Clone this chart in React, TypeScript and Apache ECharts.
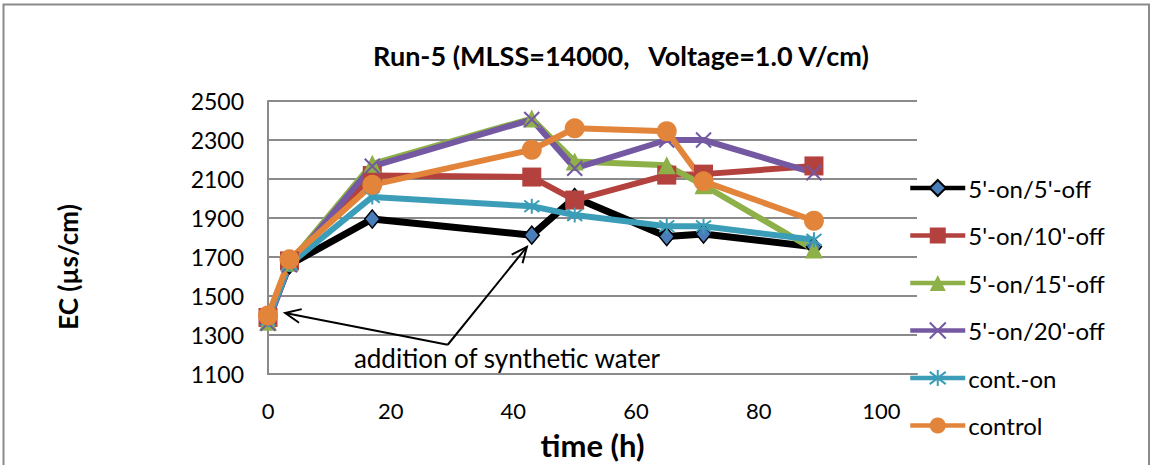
import React, { useEffect, useRef } from "react";
import * as echarts from "echarts";

// Sampling times (h)
const times = [0, 3.5, 17, 43, 50, 65, 71, 89];

// EC readings (µs/cm) for each operating mode
const on5off5 = [1385, 1660, 1895, 1812, 2005, 1805, 1818, 1752];
const on5off10 = [1390, 1680, 2118, 2110, 1992, 2120, 2125, 2167];
const on5off15 = [1368, 1670, 2178, 2410, 2190, 2170, 2068, 1738];
const on5off20 = [1360, 1660, 2165, 2405, 2155, 2300, 2300, 2132];
const contOn = [1378, 1662, 2008, 1960, 1915, 1858, 1858, 1788];
const control = [1400, 1688, 2070, 2250, 2360, 2345, 2088, 1886];

const seriesNames = [
  "5'-on/5'-off",
  "5'-on/10'-off",
  "5'-on/15'-off",
  "5'-on/20'-off",
  "cont.-on",
  "control",
];

// Axis ranges and ticks
const yMin = 1100;
const yMax = 2500;
const yStep = 200;
const xMin = 0;
const xMax = 105.8;
const xStep = 20;

// Annotation: a shared tail with two arrows pointing at the additions
const noteText = "addition of synthetic water";
const noteAnchor = [14, 1180];
const arrowTail = [29.3, 1250];
const arrowTips = [
  [2.8, 1413],
  [42.2, 1752],
];

const FONT = "Lato, 'Open Sans', sans-serif";

const crossPath = "path://M0,0L10,10M10,0L0,10";
const starPath = "path://M0,0L10,10M10,0L0,10M5,-1.5L5,11.5";

function zip(ys: number[]) {
  return times.map((t, i) => [t, ys[i]]);
}

export default function App() {
  const ref = useRef<HTMLDivElement>(null);

  useEffect(() => {
    if (!ref.current) return;
    const chart = echarts.init(ref.current, undefined, { renderer: "svg" });

    const lineSeries = (
      name: string,
      ys: number[],
      lineColor: string,
      symbol: string,
      symbolSize: number | number[],
      itemStyle: any,
      lineWidth = 6
    ) => ({
      type: "line",
      name,
      data: zip(ys),
      symbol,
      symbolSize,
      showAllSymbol: true,
      lineStyle: { color: lineColor, width: lineWidth },
      itemStyle,
      emphasis: { disabled: true },
      z: 3,
    });

    const series = [
      lineSeries(seriesNames[0], on5off5, "#000000", "diamond", [15, 18], {
        color: "#4a7ebb",
        borderColor: "#000000",
        borderWidth: 1.5,
      }, 7),
      lineSeries(seriesNames[1], on5off10, "#b3413e", "rect", 19, {
        color: "#b3413e",
      }),
      lineSeries(seriesNames[2], on5off15, "#8db048", "triangle", 18, {
        color: "#8db048",
      }),
      lineSeries(seriesNames[3], on5off20, "#7458a2", crossPath, 15, {
        color: "transparent",
        borderColor: "#7458a2",
        borderWidth: 2,
      }),
      lineSeries(seriesNames[4], contOn, "#3b9db8", starPath, 15, {
        color: "transparent",
        borderColor: "#3b9db8",
        borderWidth: 2,
      }),
      lineSeries(seriesNames[5], control, "#e2843a", "circle", 20, {
        color: "#e2843a",
      }),
    ];

    chart.setOption({
      animation: false,
      backgroundColor: "#ffffff",
      textStyle: { fontFamily: FONT },
      title: {
        text: "Run-5 (MLSS=14000,\u00a0\u00a0 Voltage=1.0 V/cm)",
        left: 616,
        top: 37,
        textAlign: "center",
        textStyle: { fontFamily: FONT, fontWeight: "bold", fontSize: 27, color: "#000" },
      },
      legend: {
        orient: "vertical",
        left: 903,
        top: 171,
        itemWidth: 55,
        itemHeight: 20,
        itemGap: 23.5,
        lineStyle: { width: 4.5 },
        textStyle: { fontFamily: FONT, fontSize: 24, color: "#000", padding: [0, 0, 0, -2] },
        data: seriesNames,
      },
      grid: { left: 268, top: 101, right: 237, bottom: 91, containLabel: false },
      xAxis: {
        type: "value",
        min: xMin,
        max: xMax,
        interval: xStep,
        name: "time (h)",
        nameLocation: "middle",
        nameGap: 55,
        nameTextStyle: { fontFamily: FONT, fontWeight: "bold", fontSize: 31, color: "#000" },
        axisLine: { show: true, lineStyle: { color: "#8a8a8a", width: 2 } },
        axisTick: { show: false },
        splitLine: { show: false },
        axisLabel: {
          fontFamily: FONT,
          fontSize: 22,
          color: "#000",
          margin: 25,
          showMaxLabel: false,
          formatter: (v: number) => (v % xStep === 0 ? String(v) : ""),
        },
      },
      yAxis: {
        type: "value",
        min: yMin,
        max: yMax,
        interval: yStep,
        axisLine: { show: true, lineStyle: { color: "#8a8a8a", width: 2 } },
        axisTick: { show: false },
        splitLine: { show: true, lineStyle: { color: "#8a8a8a", width: 2 } },
        axisLabel: {
          fontFamily: FONT,
          fontSize: 23,
          color: "#000",
          margin: 24,
          formatter: (v: number) => String(v),
        },
      },
      series,
    });

    // Annotation arrows anchored to data coordinates
    const px = (p: number[]) => chart.convertToPixel({ gridIndex: 0 }, p) as number[];
    const tail = px(arrowTail);
    const head = (tip: number[]) => {
      const t = px(tip);
      const ang = Math.atan2(tail[1] - t[1], tail[0] - t[0]);
      const len = 17;
      const spread = 0.42;
      return [
        [t[0] + len * Math.cos(ang + spread), t[1] + len * Math.sin(ang + spread)],
        t,
        [t[0] + len * Math.cos(ang - spread), t[1] + len * Math.sin(ang - spread)],
      ];
    };
    const arrowStyle = { stroke: "#000", lineWidth: 2, fill: "none" };
    const graphics: any[] = [
      {
        type: "rect",
        shape: { x: 3.5, y: 4.5, width: 1145.5, height: 480 },
        style: { fill: "none", stroke: "#8a8a8a", lineWidth: 2 },
        silent: true,
        z: 0,
      },
      // Y-axis title, rotated to read bottom-up
      {
        type: "text",
        x: 68,
        y: 267,
        rotation: Math.PI / 2,
        style: {
          text: "EC (µs/cm)",
          fontFamily: FONT,
          fontWeight: "bold",
          fontSize: 26,
          fill: "#000",
          textAlign: "center",
          textVerticalAlign: "middle",
        },
        z: 10,
      },
    ];
    arrowTips.forEach((tip) => {
      const t = px(tip);
      graphics.push({
        type: "line",
        shape: { x1: tail[0], y1: tail[1], x2: t[0], y2: t[1] },
        style: arrowStyle,
        z: 10,
      });
      graphics.push({
        type: "polyline",
        shape: { points: head(tip) },
        style: arrowStyle,
        z: 10,
      });
    });
    const np = px(noteAnchor);
    graphics.push({
      type: "text",
      x: np[0],
      y: np[1],
      style: {
        text: noteText,
        fontFamily: FONT,
        fontSize: 26,
        fill: "#000",
        textAlign: "left",
        textVerticalAlign: "middle",
      },
      z: 10,
    });
    chart.setOption({ graphic: graphics });

    return () => chart.dispose();
  }, []);

  return (
    <div
      ref={ref}
      style={{ position: "fixed", left: 0, top: 0, width: 1154, height: 465 }}
    />
  );
}
